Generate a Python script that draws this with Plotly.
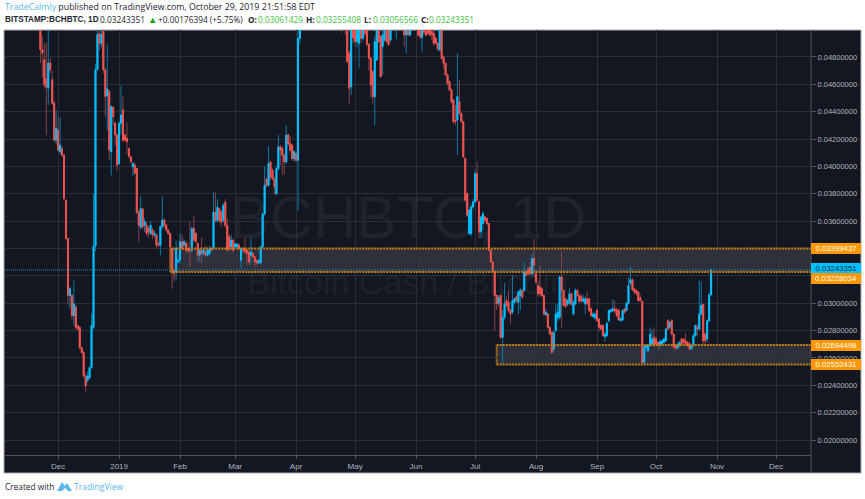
import pandas as pd
import plotly.graph_objects as go

SCALE = 1e-5  # price lists below are in units of 0.00001 BTC
start_date = "2018-11-22"

opens_raw = [
 5200,4854,4780,4640,4572,4756,4633,4462,4192,
 4266,4107,4131,4082,3752,3473,3057,3057,2910,2971,2836,2824,2677,2640,2469,2437,2457,2530,2824,3417,4707,4970,4900,4988,4707,4516,4548,4107,4432,4315,4230,
 4021,4315,4413,4229,4205,4131,4070,3997,4010,3985,3666,3556,3690,3570,3570,3547,3510,3535,3498,3498,3435,3424,3559,3608,3570,3535,3510,3400,3240,3229,3302,
 3314,3449,3424,3437,3400,3388,3388,3547,3510,3437,3351,3388,3363,3375,3351,3363,3400,3400,3666,3605,3690,3666,3605,3739,3570,3486,3412,3461,
 3412,3412,3424,3314,3400,3400,3388,3375,3351,3363,3339,3314,3295,3295,3412,3653,3910,3862,4033,3972,3911,3800,3984,4143,4131,4082,4033,4229,4168,4155,4058,
 4095,4046,4937,5050,5350,5300,5450,5600,5500,5420,5680,5380,5450,5400,5350,5300,5400,5500,5380,5320,5450,5280,5200,5100,5060,5120,5100,4827,4583,5050,
 5000,4912,4900,5030,4937,5010,5010,4893,4790,4693,4510,4778,5000,4950,4876,4924,5000,5020,4924,5030,5080,5100,5150,5100,5060,5020,4961,5000,4961,5020,5060,
 5100,5060,5000,4941,5000,4990,4998,4998,4985,4973,4937,4900,4851,5000,4800,4754,4668,4619,4558,4485,4339,4339,4473,4388,4327,4058,3802,3509,3509,3704,
 3741,3948,3741,3521,3582,3631,3619,3582,3387,3302,3228,3057,3000,3057,2751,2898,3020,3008,2947,2935,3008,3045,3008,3057,3094,3094,3228,3253,3260,3216,3327,
 3216,3130,3118,3106,3057,2917,2922,2824,2787,2665,2800,2893,2898,3192,3094,3032,2991,3000,3069,2922,2996,3094,3057,3050,3015,2996,3032,3032,2959,2903,2893,
 2947,2885,2837,2837,2756,2763,2873,2937,2947,2959,2952,2947,2873,2878,2959,2947,3000,3143,3172,3106,3094,3082,3040,3015,2567,2677,2653,2690,2702,2751,
 2739,2714,2690,2702,2714,2726,2873,2824,2873,2775,2690,2672,2690,2739,2739,2726,2714,2707,2665,2690,2763,2824,2812,2922,2991,2775,2739,2873,3061,
]
highs_raw = [
 5300,4950,4900,4903,5000,4790,4700,4480,4410,
 4360,4360,4150,4090,3760,3480,3120,3070,3167,2990,2840,2830,2680,2650,2480,2500,2540,2925,3800,4750,5050,5100,5000,5020,4720,4890,4560,4450,4440,4330,4235,
 4330,4590,4510,4240,4320,4140,4080,4030,4030,3990,3680,3780,3700,3620,3600,3560,3600,3550,3530,3510,3450,3570,3780,3620,3580,3540,3520,3410,3250,3460,3330,
 3510,3500,3470,3460,3445,3596,3560,3640,3520,3445,3400,3480,3400,3420,3400,3420,3410,3815,3810,3760,3700,3680,3730,3760,3620,3500,3500,3470,
 3445,3440,3440,3410,3410,3480,3400,3385,3480,3375,3345,3320,3320,3420,3660,4000,3920,4150,4040,3985,3920,4000,4230,4155,4150,4090,4300,4240,4220,4165,4120,
 4110,5000,5200,5400,5600,5500,5700,5800,5650,5750,5800,5500,5550,5480,5500,5450,5600,5550,5450,5500,5480,5350,5300,5200,5150,5200,5150,4850,5100,5100,
 5050,5100,5100,5100,5100,5050,5050,4900,4800,4700,4950,5050,5050,4960,5000,5050,5050,5050,5100,5200,5250,5300,5200,5180,5150,5100,5100,5050,5100,5200,5250,
 5200,5100,5030,5050,5050,5030,5050,5030,5000,4990,4950,4910,5050,5030,4810,4760,4680,4630,4570,4490,4450,4827,4632,4395,4335,4070,3810,3690,3720,3760,
 3970,4034,3750,3640,3670,3640,3630,3590,3395,3310,3235,3065,3060,3070,2950,3150,3050,3094,2960,3204,3040,3060,3095,3110,3104,3302,3240,3265,3300,3363,3473,
 3250,3160,3278,3120,3065,2960,2930,2830,2795,2795,2990,3000,3200,3376,3100,3040,3030,3110,3080,3020,3110,3105,3065,3070,3060,3050,3090,3040,2970,2935,2930,
 2960,2895,2850,2845,2790,2865,2955,2960,3030,3020,2965,2960,2895,2955,2965,3010,3190,3270,3180,3115,3100,3090,3060,3020,2695,2700,2700,2825,2810,2820,
 2760,2720,2730,2735,2750,2820,2885,2870,2885,2780,2700,2710,2725,2750,2745,2780,2725,2715,2700,2780,2845,2850,3167,3160,3000,2785,2885,3080,3255,
]
lows_raw = [
 4756,4650,4570,4229,4450,4680,4450,4180,4160,
 4110,4090,4070,3750,3460,2990,2960,2880,2836,2810,2800,2660,2630,2460,2346,2420,2440,2520,2810,3380,4700,4850,4870,4680,4364,4266,4045,3935,4300,4150,3972,
 4010,4230,4180,4180,4090,4060,4020,3930,3950,3650,3450,3540,3540,3520,3490,3480,3500,3470,3480,3400,3410,3350,3540,3550,3520,3500,3400,3106,3160,3170,3290,
 3290,3390,3410,3370,3370,3265,3370,3450,3440,3300,3300,3290,3340,3340,3340,3345,3380,3390,3590,3590,3590,3560,3590,3550,3380,3380,3390,3370,
 3400,3400,3385,3253,3370,3360,3280,3280,3280,3330,3260,3280,3285,3290,3400,3640,3850,3850,3900,3900,3790,3790,3970,4010,3940,3940,4020,4150,4100,4040,4040,
 4030,3675,4900,5020,5200,5150,5350,5400,5350,5380,5300,5280,5350,5300,5250,5230,5350,5350,5280,5300,5250,5150,5050,4975,5010,4963,4760,4456,4520,4900,
 4880,4870,4717,4900,4920,4950,4880,4700,4500,4460,4302,4770,4900,4650,4670,4910,4900,4880,4910,5010,5040,4930,5050,5030,5010,4876,4827,4950,4950,5010,5040,
 5010,4950,4930,4839,4960,4950,4960,4950,4920,4880,4890,4840,4840,4780,4710,4660,4590,4550,4460,4310,4300,4083,4380,4320,4060,3745,3630,3500,3490,3690,
 3730,3740,3473,3473,3530,3590,3570,3380,3295,3220,2800,2950,2980,2740,2555,2880,2970,2935,2849,2920,2990,3000,2920,2950,3030,3080,3190,3200,3200,3200,3190,
 3140,3050,3050,3040,2910,2905,2810,2765,2630,2640,2790,2870,2880,2824,2975,2965,2980,2990,2980,2910,2985,3045,3005,3005,3005,2920,2985,2935,2900,2890,2880,
 2865,2790,2800,2755,2720,2750,2860,2930,2935,2930,2900,2870,2865,2870,2925,2940,2990,3130,3090,3070,3060,3010,3010,2560,2555,2640,2635,2680,2695,2680,
 2695,2660,2670,2695,2705,2720,2805,2810,2765,2665,2650,2665,2685,2695,2705,2695,2680,2655,2660,2680,2755,2760,2800,2910,2700,2695,2715,2860,3057,
]
closes_raw = [
 4854,4830,4597,4580,4756,4707,4462,4192,4278,
 4119,4156,4082,3764,3473,3057,3106,2910,2996,2824,2812,2677,2640,2469,2396,2469,2530,2836,3417,4707,4964,4900,4964,4707,4511,4565,4120,4437,4364,4230,4010,
 4315,4376,4192,4192,4180,4075,4033,4021,3950,3666,3570,3690,3560,3595,3510,3522,3570,3498,3510,3424,3424,3559,3608,3570,3535,3510,3412,3229,3216,3400,3314,
 3449,3400,3449,3388,3383,3383,3547,3461,3449,3351,3388,3363,3388,3351,3388,3400,3388,3666,3605,3702,3605,3592,3715,3570,3388,3400,3461,3388,
 3432,3432,3400,3400,3388,3375,3363,3302,3375,3339,3302,3295,3314,3412,3653,3862,3862,4021,3923,3911,3850,3984,4143,4119,4082,4033,4229,4168,4119,4058,4107,
 4045,4937,5050,5350,5300,5450,5600,5500,5420,5680,5380,5450,5400,5350,5300,5400,5500,5380,5320,5450,5280,5200,5100,5060,5120,5040,4766,4571,5050,4940,
 4912,5020,5030,4937,5010,4973,4893,4790,4595,4510,4912,5000,4912,4656,4961,5000,4912,4890,5020,5080,5120,5150,5100,5060,5020,4960,5000,4961,5020,5060,5100,
 5060,4960,4949,5000,4980,4960,4973,4961,4961,4900,4900,4860,5000,4790,4754,4668,4607,4558,4473,4327,4327,4510,4388,4327,4070,3753,3643,3680,3704,3741,
 3948,3753,3521,3631,3656,3607,3582,3387,3302,3228,3057,2996,3040,2751,2898,2996,2984,2947,2922,3020,3032,3020,3082,3094,3045,3228,3204,3216,3216,3327,3278,
 3155,3069,3069,3057,2922,2934,2824,2775,2640,2787,2922,2935,3192,3094,2984,2976,3020,3069,2991,3008,3094,3057,3015,3015,3032,3032,2996,2947,2910,2922,2922,
 2873,2824,2812,2763,2775,2854,2947,2952,2960,2942,2910,2878,2885,2947,2935,3000,3130,3172,3099,3082,3069,3020,3020,2567,2682,2690,2690,2775,2739,2690,
 2702,2697,2721,2726,2739,2812,2812,2861,2775,2678,2672,2702,2714,2702,2714,2702,2690,2665,2690,2763,2837,2812,2922,2984,2726,2726,2873,3061,3243,
]

month_ticks = ["2018-12-01","2019-01-01","2019-02-01","2019-03-01","2019-04-01","2019-05-01","2019-06-01",
               "2019-07-01","2019-08-01","2019-09-01","2019-10-01","2019-11-01","2019-12-01"]
month_labels = ["Dec","2019","Feb","Mar","Apr","May","Jun","Jul","Aug","Sep","Oct","Nov","Dec"]
price_ticks = [0.048,0.046,0.044,0.042,0.040,0.038,0.036,0.034,0.032,0.030,0.028,0.026,0.024,0.022,0.020]
hidden_price_ticks = [0.034,0.032]
last_price = 0.03243351
zone_upper = [0.03399437, 0.03228034]
zone_lower = [0.02694498, 0.02552431]
zone_upper_start = "2019-01-27"
zone_lower_start = "2019-07-12"
x_range = ["2018-11-04", "2019-12-18 19:00"]
y_range = [0.01891, 0.04997]

BG = "#131722"; GRID = "#2a2d3a"; AX = "#50535e"; TXT = "#b2b5be"
UP = "#00bfff"; DOWN = "#ef5350"; UP_WICK = "#0b7ba4"; DOWN_WICK = "#8a4044"
ORANGE = "#ff9800"; FONT = "Liberation Sans"; HEAD = "Open Sans"

opens = [v * SCALE for v in opens_raw]
highs = [v * SCALE for v in highs_raw]
lows = [v * SCALE for v in lows_raw]
closes = [v * SCALE for v in closes_raw]
dates = pd.date_range(start_date, periods=len(closes))

fig = go.Figure()
fig.add_trace(go.Candlestick(
    x=dates, open=opens, high=highs, low=lows, close=closes, hoverinfo="skip", showlegend=False,
    increasing=dict(line=dict(color=UP_WICK, width=1), fillcolor=UP_WICK),
    decreasing=dict(line=dict(color=DOWN_WICK, width=1), fillcolor=DOWN_WICK)))
fig.add_trace(go.Candlestick(
    x=dates, open=opens, close=closes,
    high=[max(o, c) for o, c in zip(opens, closes)],
    low=[min(o, c) for o, c in zip(opens, closes)],
    hoverinfo="skip", showlegend=False,
    increasing=dict(line=dict(color=UP, width=1), fillcolor=UP),
    decreasing=dict(line=dict(color=DOWN, width=1), fillcolor=DOWN)))

shapes = []
# dark panel and frame, extends past the plot to the axis bands
shapes.append(dict(type="rect", xref="paper", yref="paper", x0=-1/806, x1=1+50/806, y0=-18/425, y1=1,
                   fillcolor=BG, line=dict(color="#a9abb0", width=1), layer="below"))
# watermark
shapes.append(dict(type="rect", xref="paper", yref="y", x0=0, x1=1, y0=0.0347, y1=0.0387, line_width=0,
                   fillcolor="rgba(0,0,0,0)", layer="below",
                   label=dict(text="BCHBTC, 1D", font=dict(family=FONT, size=60, color="#1f232d"),
                              textposition="middle center")))
shapes.append(dict(type="rect", xref="paper", yref="y", x0=0, x1=1, y0=0.0303, y1=0.0333, line_width=0,
                   fillcolor="rgba(0,0,0,0)", layer="below",
                   label=dict(text="Bitcoin Cash / Bitcoin", font=dict(family=FONT, size=34, color="#1d212b"),
                              textposition="middle center")))
for zone, start in ((zone_upper, zone_upper_start), (zone_lower, zone_lower_start)):
    shapes.append(dict(type="rect", xref="x", yref="y", x0=start, x1=x_range[1], y0=zone[1], y1=zone[0],
                       fillcolor="#2e313c", line_width=0, layer="below"))
    for v in zone:
        shapes.append(dict(type="line", xref="x", yref="y", x0=start, x1=x_range[1], y0=v, y1=v,
                           line=dict(color="#c97f12", width=2, dash="2px,1px"), layer="above"))
    shapes.append(dict(type="line", xref="x", yref="y", x0=start, x1=start, y0=zone[1], y1=zone[0],
                       line=dict(color="#8a5c1c", width=2), layer="below"))
# last price line
shapes.append(dict(type="line", xref="paper", yref="y", x0=0, x1=1, y0=last_price, y1=last_price,
                   line=dict(color="#2f8fb4", width=1, dash="1px,1px"), layer="above"))
# axis separators
shapes.append(dict(type="line", xref="paper", yref="paper", x0=1, x1=1, y0=-18/425, y1=1,
                   line=dict(color=AX, width=1), layer="above"))
# TradingView logo mark
shapes.append(dict(type="path", xref="paper", yref="paper", xsizemode="pixel", ysizemode="pixel", xanchor=0, yanchor=0,
                   path="M 52 -36 L 57 -27 L 60 -31 L 62 -28 L 67 -36 Z",
                   fillcolor="#5db7ee", line_width=0, layer="above"))
shapes.append(dict(type="path", xref="paper", yref="paper", xsizemode="pixel", ysizemode="pixel", xanchor=0, yanchor=0,
                   path="M 57 -36 L 60 -33 L 63 -36 Z",
                   fillcolor="#ffffff", line_width=0, layer="above"))
fig.update_layout(shapes=shapes)

tags = [
    (zone_upper[0], ORANGE, "#ffffff", 0),
    (last_price, "#00bfff", "#0b2f3f", 1),
    (zone_upper[1], ORANGE, "#ffffff", -6),
    (zone_lower[0], ORANGE, "#ffffff", 0),
    (zone_lower[1], ORANGE, "#ffffff", 0),
]
anns = []
for v, bg, fg, shift in tags:
    anns.append(dict(x=1, xref="paper", xanchor="left", xshift=0, y=v, yref="y", yanchor="middle", yshift=shift,
                     text=f"{v:.8f}", showarrow=False, bgcolor=bg, width=50, height=11, borderpad=0, borderwidth=0,
                     font=dict(family=FONT, size=7.8, color=fg), align="center"))

G = "#3fbf3f"; D = "#23262f"; L = "#5db7ee"; ARROW = "#1fa51f"
header_items = [
    (f'<span style="color:{L}">TradeCalmly</span> published on TradingView.com, October 29, 2019 21:51:58 EDT', 4, 7, 8.8, D, HEAD),
    ("<b>BITSTAMP:BCHBTC, 1D</b>", 4, 19.5, 8.2, D, FONT),
    ("0.03243351", 99, 19.5, 8.3, D, HEAD),
    ("▲", 147, 19.5, 9.5, ARROW, HEAD),
    ("+0.00176394 (+5.75%)", 157, 19.5, 8.3, D, HEAD),
    ("<b>O:</b>", 247, 19.5, 8.3, D, HEAD),
    ("0.03061429", 257, 19.5, 8.3, G, HEAD),
    ("<b>H:</b>", 305, 19.5, 8.3, D, HEAD),
    ("0.03255408", 315, 19.5, 8.3, G, HEAD),
    ("<b>L:</b>", 363, 19.5, 8.3, D, HEAD),
    ("0.03056566", 372, 19.5, 8.3, G, HEAD),
    ("<b>C:</b>", 420, 19.5, 8.3, D, HEAD),
    ("0.03243351", 428, 19.5, 8.3, G, HEAD),
    ("Created with", 4, 487, 8.3, D, HEAD),
    ("TradingView", 73, 487, 8.6, L, HEAD),
]
for text, px, py, size, color, family in header_items:
    anns.append(dict(x=(px-5)/806, y=(455-py)/425, xref="paper", yref="paper", xanchor="left", yanchor="middle",
                     text=text, showarrow=False, align="left", borderpad=0,
                     font=dict(family=family, size=size, color=color)))

fig.update_layout(
    width=865, height=499, autosize=False,
    margin=dict(l=5, r=54, t=30, b=44, pad=0),
    paper_bgcolor="white", plot_bgcolor=BG, showlegend=False,
    font=dict(family=FONT, color=TXT),
    annotations=anns,
    xaxis=dict(type="date", range=x_range, rangeslider=dict(visible=False), tickmode="array",
               tickvals=month_ticks, ticktext=month_labels, showgrid=True, gridcolor=GRID, gridwidth=1,
               showline=True, linecolor=AX, linewidth=1, ticks="outside", ticklen=3, tickcolor=AX,
               tickfont=dict(family=FONT, size=8, color=TXT), zeroline=False),
    yaxis=dict(side="right", range=y_range, tickmode="array", tickvals=price_ticks,
               ticktext=["" if v in hidden_price_ticks else f"{v:.8f}" for v in price_ticks],
               showgrid=True, gridcolor=GRID, gridwidth=1, showline=False, ticks="outside", ticklen=4,
               tickcolor=AX, tickfont=dict(family=FONT, size=7.5, color=TXT), zeroline=False),
)

fig.write_html("out.html", config=dict(displayModeBar=False),
               post_script="document.body.style.margin='0';document.documentElement.style.overflow='hidden';")
